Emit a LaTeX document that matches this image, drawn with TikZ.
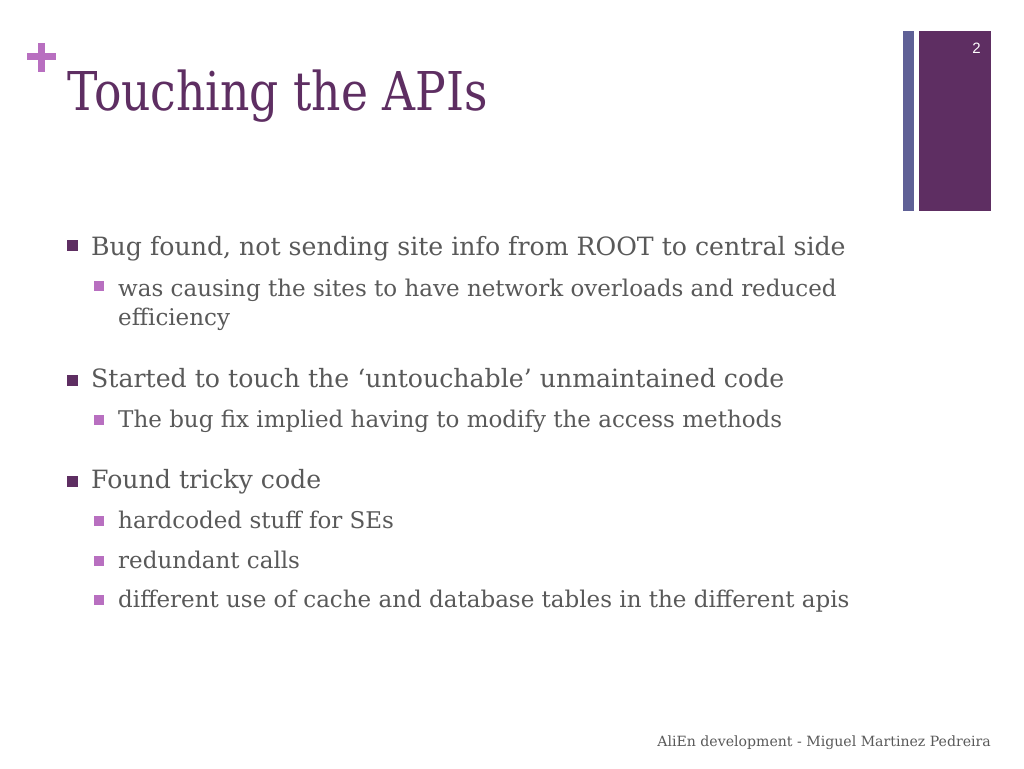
\documentclass[tikz,border=0pt]{standalone}
\usepackage{fontspec}
\setmainfont{DejaVu Serif}
\newfontfamily\numfont{Liberation Sans}
\definecolor{titlepurple}{HTML}{5E2E62}
\definecolor{lightpurple}{HTML}{B86FC0}
\definecolor{barblue}{HTML}{5F6096}
\definecolor{bodygrey}{HTML}{595959}
\tikzset{
  lvlone/.style={anchor=base west, inner sep=0pt, text=bodygrey, font=\fontsize{25.2}{30}\selectfont},
  lvltwo/.style={anchor=base west, inner sep=0pt, text=bodygrey, font=\fontsize{23}{29}\selectfont},
  sqone/.style={fill=titlepurple, draw=none},
  sqtwo/.style={fill=lightpurple, draw=none},
}
\begin{document}
\begin{tikzpicture}[x=1pt,y=-1pt]
\useasboundingbox[fill=white] (0,0) rectangle (1024,768);
% side bars
\fill[barblue] (903,31) rectangle (914,211);
\fill[titlepurple] (919,31) rectangle (991,211);
\node[anchor=base, text=white, inner sep=0pt, font=\numfont\fontsize{15}{17}\selectfont] (pnum) at (976.5,54) {2};
% plus sign
\fill[lightpurple] (27,53) rectangle (56,60);
\fill[lightpurple] (38,43) rectangle (45,72);
% title
\node[anchor=base west, inner sep=0pt, text=titlepurple, font=\fontsize{53.5}{60}\selectfont] (title) at (67,110) {\scalebox{0.853}[1]{Touching the APIs}};
% bullets
\fill[sqone] (67,240) rectangle (78,251);
\node[lvlone] (b1) at (91,255) {Bug found, not sending site info from ROOT to central side};
\fill[sqtwo] (94,281) rectangle (104,291);
\node[lvltwo] (b1a) at (118,296) {was causing the sites to have network overloads and reduced};
\node[lvltwo] (b1b) at (118,325) {efficiency};
\fill[sqone] (67,375) rectangle (78,386);
\node[lvlone] (b2) at (91,387) {Started to touch the ‘untouchable’ unmaintained code};
\fill[sqtwo] (94,415) rectangle (104,425);
\node[lvltwo] (b2a) at (118,427) {The bug fix implied having to modify the access methods};
\fill[sqone] (67,476) rectangle (78,487);
\node[lvlone] (b3) at (91,488) {Found tricky code};
\fill[sqtwo] (94,516) rectangle (104,526);
\node[lvltwo] (b3a) at (118,528) {hardcoded stuff for SEs};
\fill[sqtwo] (94,556) rectangle (104,566);
\node[lvltwo] (b3b) at (118,568) {redundant calls};
\fill[sqtwo] (94,595) rectangle (104,605);
\node[lvltwo] (b3c) at (118,607) {different use of cache and database tables in the different apis};
% footer
\node[anchor=base east, inner sep=0pt, text=bodygrey, font=\fontsize{14.1}{16}\selectfont] (foot) at (991,746) {AliEn development - Miguel Martinez Pedreira};
\end{tikzpicture}
\end{document}
